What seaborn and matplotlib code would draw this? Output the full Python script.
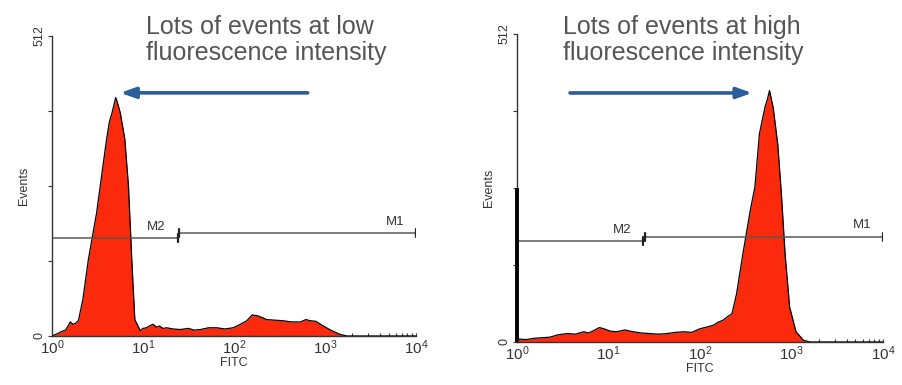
import numpy as np
import pandas as pd
import seaborn as sns
import matplotlib.pyplot as plt
from matplotlib.ticker import FixedLocator, FixedFormatter, LogLocator

sns.set_style("white")
plt.rcParams['font.family'] = ['Liberation Sans', 'DejaVu Sans']

# histogram outlines, x as log10(FITC), y as events
low_logx = [0.00, 0.06, 0.11, 0.15, 0.18, 0.20, 0.23, 0.26, 0.29, 0.34, 0.40, 0.45,
            0.49, 0.55, 0.60, 0.63, 0.66, 0.70, 0.72, 0.75, 0.80, 0.84, 0.88, 0.91,
            0.97, 1.00, 1.04, 1.08, 1.11, 1.15, 1.18, 1.22, 1.26, 1.33, 1.41, 1.50,
            1.56, 1.63, 1.72, 1.81, 1.90, 1.99, 2.07, 2.14, 2.20, 2.27, 2.36, 2.45,
            2.54, 2.63, 2.73, 2.79, 2.84, 2.90, 2.95, 3.05, 3.16, 3.24, 4.00]
low_events = [0, 4, 8, 10, 18, 24, 20, 22, 26, 63, 131, 175,
              210, 279, 336, 365, 381, 407, 398, 381, 336, 256, 119, 28,
              9, 13, 14, 18, 20, 15, 17, 13, 14, 12, 11, 13,
              10, 11, 14, 14, 12, 14, 20, 26, 36, 34, 28, 27,
              26, 24, 24, 28, 26, 25, 20, 11, 3, 0, 0]

high_logx = [0.00, 0.005, 0.10, 0.18, 0.27, 0.36, 0.45, 0.55, 0.64, 0.73, 0.78, 0.84,
             0.90, 0.95, 1.02, 1.09, 1.18, 1.27, 1.36, 1.45, 1.55, 1.64, 1.73, 1.82,
             1.91, 2.00, 2.08, 2.15, 2.20, 2.25, 2.30, 2.35, 2.40, 2.47, 2.55, 2.60,
             2.65, 2.71, 2.74, 2.76, 2.80, 2.85, 2.89, 2.93, 2.98, 3.05, 3.13, 3.20, 4.00]
high_events = [256, 5, 4, 6, 7, 8, 12, 14, 13, 17, 15, 19,
               24, 22, 18, 17, 20, 17, 15, 14, 13, 14, 16, 17,
               16, 22, 25, 28, 33, 36, 42, 47, 80, 147, 219, 257,
               346, 390, 405, 418, 390, 329, 246, 147, 58, 17, 3, 0, 0]

# marker gates (log10 start, log10 end, events)
m2_low = [0.0, 1.38, 167]
m1_low = [1.40, 4.0, 176]
m2_high = [0.0, 1.38, 168]
m1_high = [1.40, 4.0, 175]

titles = ["Lots of events at low\nfluorescence intensity",
          "Lots of events at high\nfluorescence intensity"]
arrows = [(2.81, 0.75, 415), (0.58, 2.57, 414)]

fig = plt.figure(figsize=(9.03, 3.85), dpi=100)
axes = [fig.add_axes([0.0576, 0.1273, 0.4031, 0.7792]),
        fig.add_axes([0.5725, 0.1117, 0.4053, 0.8000])]

panels = [(low_logx, low_events, m2_low, m1_low),
          (high_logx, high_events, m2_high, m1_high)]

for i, (ax, (lx, ev, m2, m1)) in enumerate(zip(axes, panels)):
    df = pd.DataFrame({"FITC": 10 ** np.array(lx), "Events": ev})
    ax.fill_between(df["FITC"], df["Events"], color="#fb2a0c", lw=0)
    sns.lineplot(data=df, x="FITC", y="Events", ax=ax, color="black", lw=0.9,
                 sort=False)
    ax.set_xscale("log")
    ax.set_xlim(1, 1e4)
    ax.set_ylim(0, 512)
    for s in ["top", "right"]:
        ax.spines[s].set_visible(False)
    for s in ["left", "bottom"]:
        ax.spines[s].set_color("#333333")
        ax.spines[s].set_linewidth(1.0)
    ax.yaxis.set_major_locator(FixedLocator([0, 128, 256, 384, 512]))
    ax.yaxis.set_major_formatter(FixedFormatter(["0", "", "", "", "512"]))
    ax.tick_params(axis="y", direction="out", length=3, width=0.8, left=True,
                   labelsize=9, labelrotation=90, colors="#333333", pad=2)
    for lab in ax.get_yticklabels():
        lab.set_va("center")
    ax.xaxis.set_major_locator(LogLocator(base=10, numticks=10))
    ax.xaxis.set_minor_locator(LogLocator(base=10, subs=np.arange(2, 10), numticks=10))
    ax.tick_params(axis="x", which="both", direction="in", length=2.5, width=0.8,
                   bottom=True, labelsize=11, colors="#333333", pad=2)
    ax.set_xlabel("FITC", fontsize=9, color="#333333", labelpad=0)
    ax.set_ylabel("Events", fontsize=9, color="#333333", labelpad=2)

    # first-channel pile-up drawn as a thick bar on the axis
    if ev[0] > 0:
        ax.plot([1, 1], [0, ev[0]], color="black", lw=2.8, clip_on=False,
                solid_capstyle="butt", zorder=5)

    # gates
    for g, name in [(m2, "M2"), (m1, "M1")]:
        ax.plot([10 ** g[0], 10 ** g[1]], [g[2], g[2]], color="#555555", lw=1.2,
                alpha=0.9)
        ax.plot([10 ** g[1]] * 2, [g[2] - 7, g[2] + 7], color="#222222", lw=1.6)
        if g[0] > 0:
            ax.plot([10 ** g[0]] * 2, [g[2] - 7, g[2] + 7], color="#222222", lw=1.6)
        ax.text(10 ** (g[1] - 0.13), g[2] + 9, name,
                fontsize=9.5, color="#333333", ha="right", va="bottom")

    x0, x1, y = arrows[i]
    ax.annotate("", xy=(10 ** x1, y), xytext=(10 ** x0, y),
                arrowprops=dict(arrowstyle="-|>,head_length=0.9,head_width=0.32",
                                color="#2b5d9b", lw=2.6, shrinkA=0, shrinkB=0),
                annotation_clip=False)

fig.text(146 / 903, 1 - 15 / 385, titles[0], fontsize=18, color="#555555",
         va="top", ha="left", linespacing=1.12)
fig.text(563 / 903, 1 - 15 / 385, titles[1], fontsize=18, color="#555555",
         va="top", ha="left", linespacing=1.12)

fig.savefig("out.png", dpi=100)
